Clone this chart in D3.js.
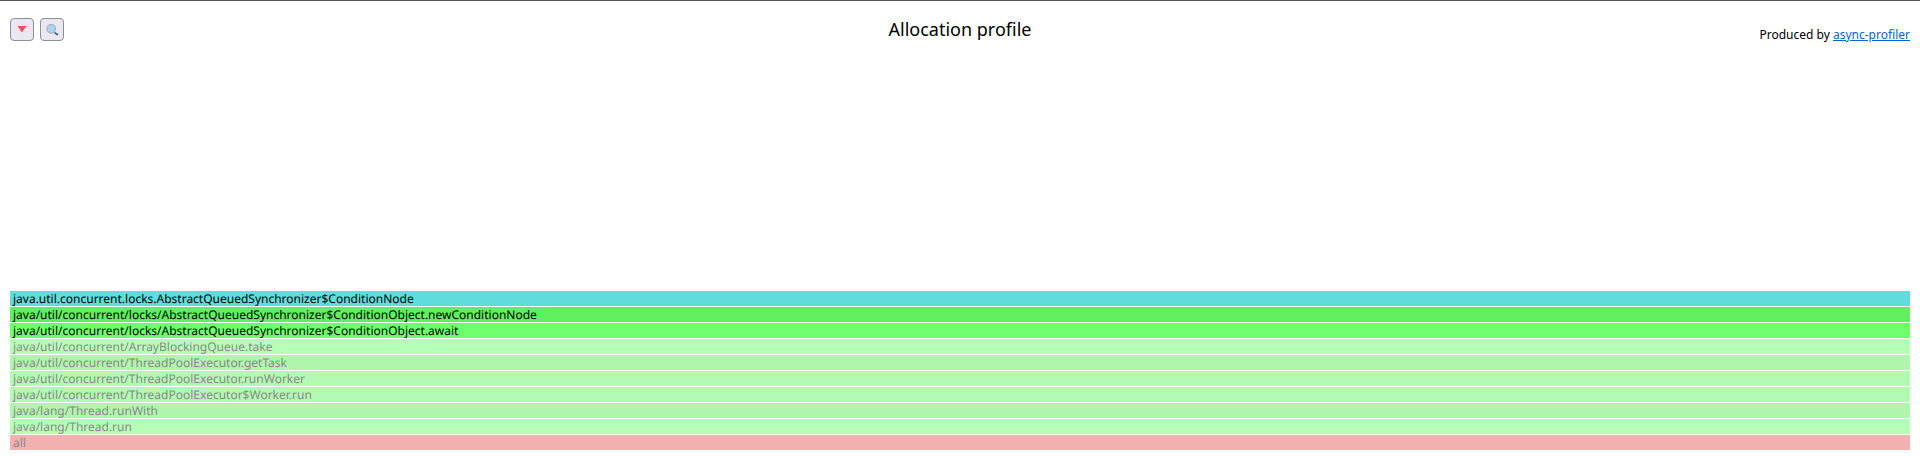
<!DOCTYPE html>
<html lang="en">

<head>
    <meta charset="UTF-8">
    <title>Allocation profile</title>
    <script src="https://cdnjs.cloudflare.com/ajax/libs/d3/7.8.5/d3.min.js" type="text/JavaScript"></script>
    <style>
        html, body { margin: 0; padding: 0; background: #fff; overflow: hidden; }
        body { font-family: "Noto Sans", sans-serif; position: relative; width: 1920px; height: 456px; }
        svg { display: block; position: absolute; left: 0; top: 0; font-family: "Noto Sans", sans-serif; }
        h1 { position: absolute; left: 0; width: 1920px; top: 17px; margin: 0; text-align: center; font-size: 18px; line-height: 25px; font-weight: normal; color: #000; }
        #credit { position: absolute; right: 10px; top: 26px; font-size: 12px; line-height: 17px; color: #000; }
        #credit a { color: #0366d6; text-decoration: underline; }
        .frame text { text-rendering: geometricPrecision; }
    </style>
</head>

<body>
    <svg id="chart" width="1920" height="456"></svg>
    <h1 id="title"></h1>
    <div id="credit"></div>
    <script>
        // stack frames, top of the stack first
        var frames = [
            "java.util.concurrent.locks.AbstractQueuedSynchronizer$ConditionNode",
            "java/util/concurrent/locks/AbstractQueuedSynchronizer$ConditionObject.newConditionNode",
            "java/util/concurrent/locks/AbstractQueuedSynchronizer$ConditionObject.await",
            "java/util/concurrent/ArrayBlockingQueue.take",
            "java/util/concurrent/ThreadPoolExecutor.getTask",
            "java/util/concurrent/ThreadPoolExecutor.runWorker",
            "java/util/concurrent/ThreadPoolExecutor$Worker.run",
            "java/lang/Thread.runWith",
            "java/lang/Thread.run",
            "all"
        ];
        // every frame covers the whole profile
        var shares = [100, 100, 100, 100, 100, 100, 100, 100, 100, 100];
        var frameColors = ["#60dcdc", "#5fef5f", "#6dff6d", "#b6ffb6", "#b0f5ac", "#b2fab2", "#b2f9b2", "#aff5ac", "#b6ffb6", "#f2b0b0"];
        var textColors = ["#000000", "#000000", "#000000", "#888888", "#888888", "#888888", "#888888", "#888888", "#888888", "#888888"];

        var svg = d3.select("#chart");

        var xScale = d3.scaleLinear().domain([0, 100]).range([10, 1910]);
        var yScale = d3.scaleBand().domain(frames).range([291, 451]).paddingInner(0);

        // top edge of the page
        svg.append("rect").attr("x", 0).attr("y", 0).attr("width", 1920).attr("height", 1).attr("fill", "#555");

        // title and credit
        d3.select("#title").text("Allocation profile");
        var credit = d3.select("#credit");
        credit.append("span").text("Produced by ");
        credit.append("a").attr("href", "#").text("async-profiler");

        // the two buttons
        var buttons = svg.selectAll("g.btn")
            .data([10, 40])
            .enter()
            .append("g")
            .attr("class", "btn")
            .attr("transform", d => "translate(" + d + ",18)");
        buttons.append("rect")
            .attr("x", 0.5).attr("y", 0.5)
            .attr("width", 23).attr("height", 22).attr("rx", 3.5)
            .attr("fill", "#e9e8ee").attr("stroke", "#8f8c9c");

        d3.select(buttons.nodes()[0]).append("path")
            .attr("d", "M7.5 8L16.5 8L12 14.5Z")
            .attr("fill", "#ee5068");
        var lens = d3.select(buttons.nodes()[1]);
        lens.append("line")
            .attr("x1", 14.5).attr("y1", 14.5).attr("x2", 18).attr("y2", 17)
            .attr("stroke", "#4c6a80").attr("stroke-width", 2);
        lens.append("circle")
            .attr("cx", 11.2).attr("cy", 10.8).attr("r", 4.3)
            .attr("fill", "#a8d4ee").attr("stroke", "#a3aeb6").attr("stroke-width", 1.1);

        // flame graph rows
        var rows = svg.selectAll("g.frame")
            .data(frames)
            .enter()
            .append("g")
            .attr("class", "frame");

        rows.append("rect")
            .attr("x", xScale(0))
            .attr("y", d => yScale(d))
            .attr("width", (d, i) => xScale(shares[i]) - xScale(0))
            .attr("height", yScale.bandwidth() - 1)
            .attr("fill", (d, i) => frameColors[i]);

        rows.append("text")
            .attr("x", xScale(0) + 3)
            .attr("y", d => yScale(d) + 12)
            .style("font-size", "12px")
            .attr("fill", (d, i) => textColors[i])
            .text(d => d);
    </script>
</body>

</html>
